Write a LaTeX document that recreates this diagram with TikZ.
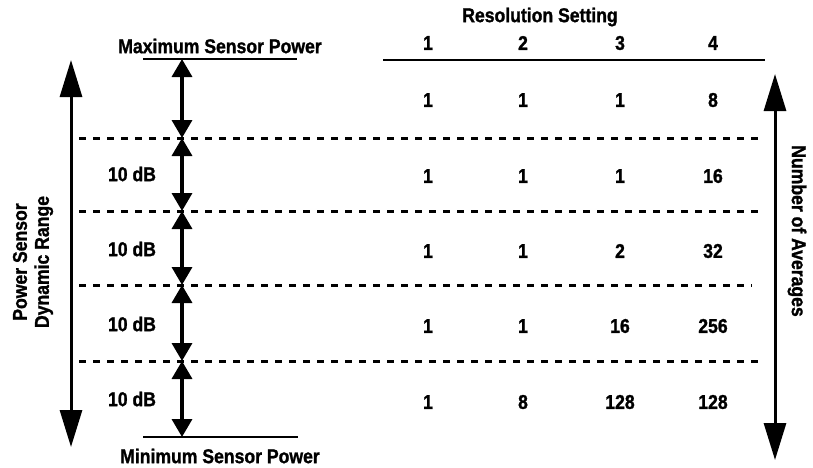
\documentclass[tikz,border=0pt]{standalone}
\usepackage{fontspec}
\setmainfont{Liberation Sans Bold}[FakeStretch=0.88,FakeBold=1.2]
\usetikzlibrary{arrows.meta}
\begin{document}
\begin{tikzpicture}[x=1pt,y=-1pt,
  lbl/.style={font=\fontsize{20}{22}\selectfont, inner sep=0pt},
  solidline/.style={line width=2.8pt},
  dotline/.style={line width=3pt, dash pattern=on 7pt off 7pt},
  bigarrow/.style={line width=3pt, {Triangle[width=22pt,length=37pt]}-{Triangle[width=22pt,length=37pt]}},
  dbarrow/.style={line width=3.5pt, {Triangle[width=20pt,length=18pt]}-{Triangle[width=20pt,length=18pt]}}]
\useasboundingbox (0,0) rectangle (813,467);
% horizontal lines
\coordinate (maxL) at (143,59); \coordinate (maxR) at (297,59);
\coordinate (minL) at (143,437); \coordinate (minR) at (298,437);
\coordinate (tabL) at (383,60); \coordinate (tabR) at (765,60);
\draw[solidline] (maxL) -- (maxR);
\draw[solidline] (minL) -- (minR);
\draw[solidline] (tabL) -- (tabR);
\coordinate (d1L) at (79,138); \coordinate (d1R) at (760,138);
\coordinate (d2L) at (79,211); \coordinate (d2R) at (760,211);
\coordinate (d3L) at (79,285); \coordinate (d3R) at (752,285);
\coordinate (d4L) at (79,361); \coordinate (d4R) at (760,361);
\draw[dotline] (d1L) -- (d1R);
\draw[dotline] (d2L) -- (d2R);
\draw[dotline] (d3L) -- (d3R);
\draw[dotline] (d4L) -- (d4R);
% dB arrows
\coordinate (a0) at (182,59);
\coordinate (a1) at (182,138);
\coordinate (a2) at (182,211);
\coordinate (a3) at (182,285);
\coordinate (a4) at (182,361);
\coordinate (a5) at (182,437);
\draw[dbarrow] (a0) -- (a1);
\draw[dbarrow] (a1) -- (a2);
\draw[dbarrow] (a2) -- (a3);
\draw[dbarrow] (a3) -- (a4);
\draw[dbarrow] (a4) -- (a5);
% big arrows
\coordinate (lt) at (71,60); \coordinate (lb) at (71,447);
\coordinate (rt) at (775,74); \coordinate (rb) at (775,460);
\draw[bigarrow] (lt) -- (lb);
\draw[bigarrow] (rt) -- (rb);
% labels
\node[lbl] (maxp) at (220,46) {Maximum Sensor Power};
\node[lbl] (minp) at (220,456) {Minimum Sensor Power};
\node[lbl] (res) at (540,17) {Resolution Setting};
\node[lbl] (c1) at (428,43) {1};
\node[lbl] (c2) at (523,43) {2};
\node[lbl] (c3) at (620,43) {3};
\node[lbl] (c4) at (713,43) {4};
\node[lbl] (db1) at (132,174) {10 dB};
\node[lbl] (db2) at (132,249) {10 dB};
\node[lbl] (db3) at (132,324) {10 dB};
\node[lbl] (db4) at (132,399) {10 dB};
\node[lbl, rotate=90, align=center] (psdr) at (33,262) {Power Sensor\\Dynamic Range};
\node[lbl, rotate=-90] (noa) at (797,231) {Number of Averages};
% values
\foreach \r/\y/\a/\b/\c/\d in {1/100/1/1/1/8, 2/176/1/1/1/16, 3/251/1/1/2/32, 4/326/1/1/16/256, 5/402/1/8/128/128}{
  \node[lbl] (v\r a) at (428,\y) {\a};
  \node[lbl] (v\r b) at (523,\y) {\b};
  \node[lbl] (v\r c) at (620,\y) {\c};
  \node[lbl] (v\r d) at (713,\y) {\d};
}
\end{tikzpicture}
\end{document}
